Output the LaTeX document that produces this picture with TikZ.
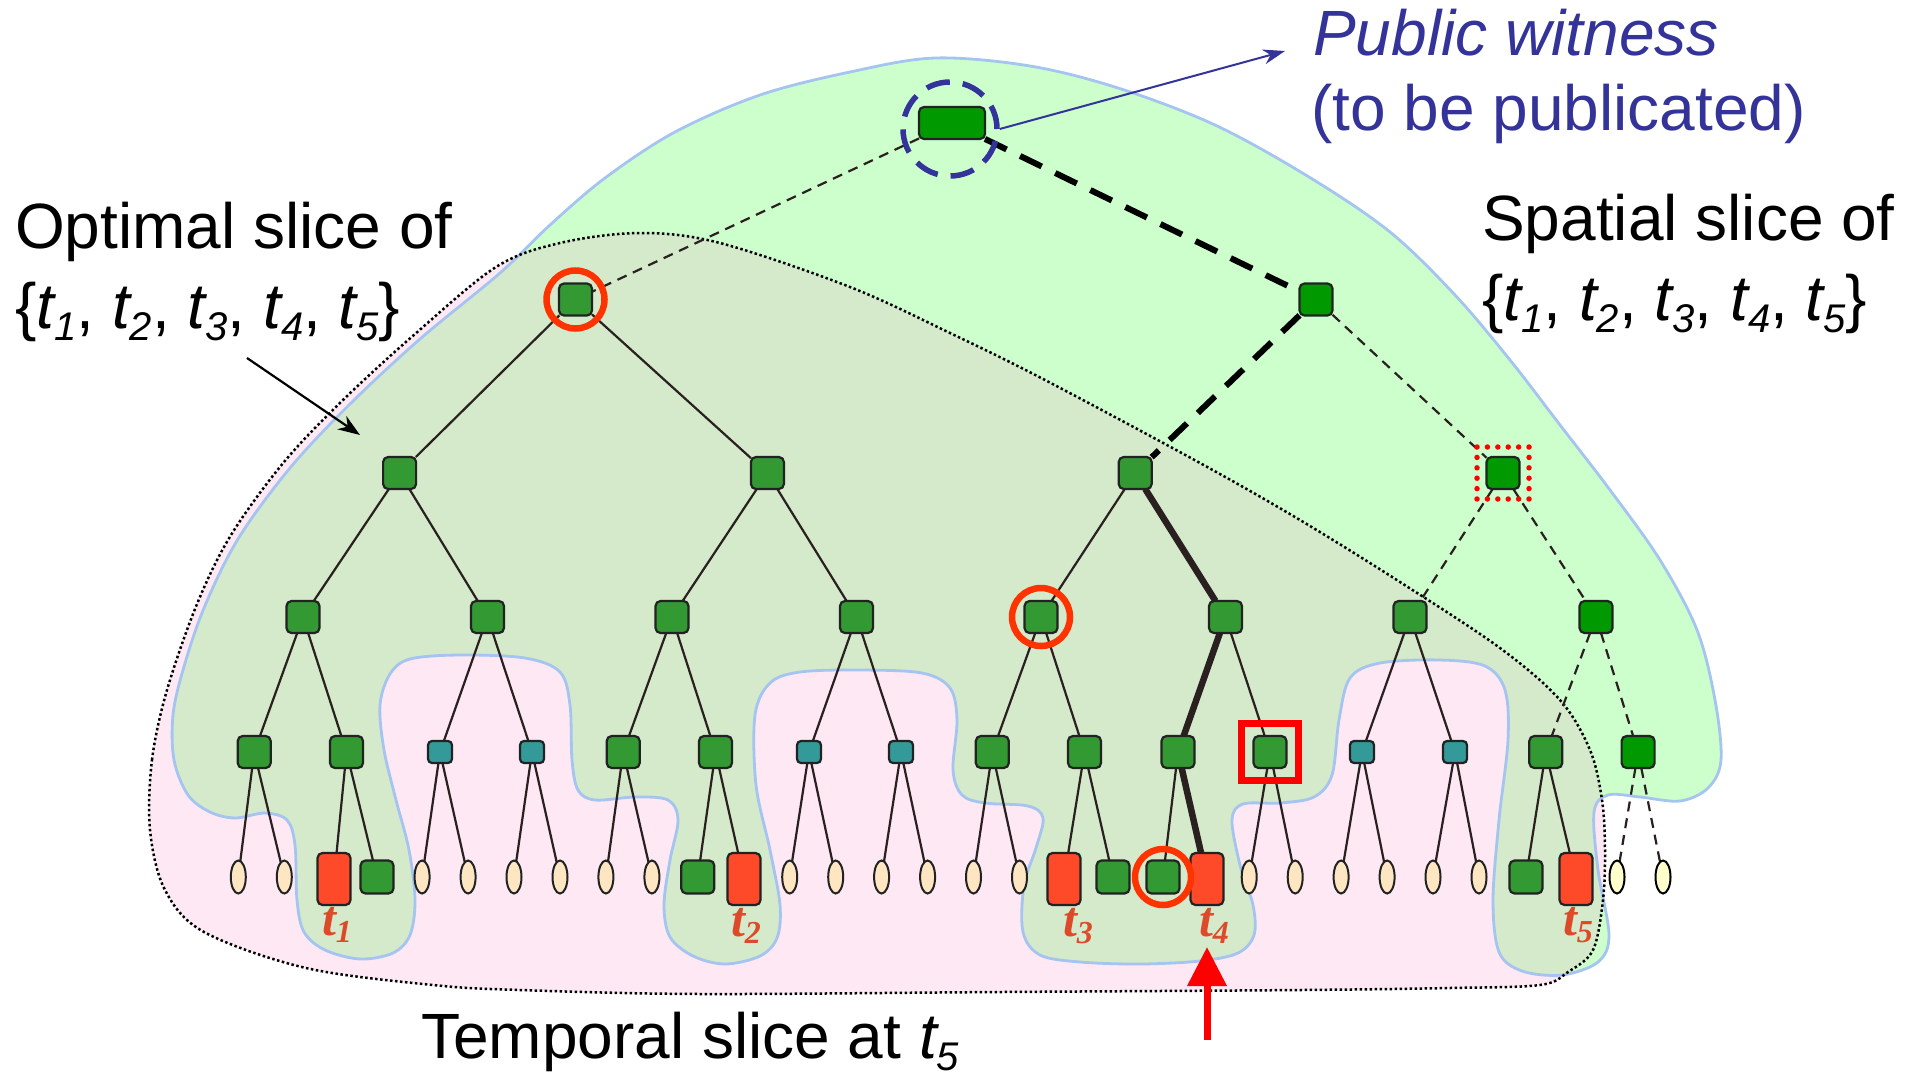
\documentclass[tikz,border=0pt]{standalone}
\usepackage{fontspec}
\setmainfont{Liberation Sans}
\newfontfamily\labelserif{Liberation Serif}
\usetikzlibrary{arrows.meta,calc,shapes.geometric}

\definecolor{regpink}{HTML}{FDE8F4}
\definecolor{reggreen}{HTML}{CCFFCC}
\definecolor{regboth}{HTML}{D4EACB}
\definecolor{regline}{HTML}{A5C4F0}
\definecolor{nodemid}{HTML}{339933}
\definecolor{nodebright}{HTML}{009900}
\definecolor{nodeteal}{HTML}{339999}
\definecolor{nodeline}{HTML}{222222}
\definecolor{leafcream}{HTML}{FFE6C3}
\definecolor{leafpale}{HTML}{FFFFCC}
\definecolor{leafred}{HTML}{FF4A2A}
\definecolor{edgedark}{HTML}{2A2020}
\definecolor{markred}{HTML}{FF3300}
\definecolor{purered}{HTML}{FF0000}
\definecolor{labred}{HTML}{DD4A2A}
\definecolor{witness}{HTML}{333399}

\pgfdeclarelayer{regions}
\pgfdeclarelayer{links}
\pgfsetlayers{regions,links,main}

% subscript used in the set labels
\newcommand\subs[1]{\raisebox{-12pt}{\fontsize{40}{40}\selectfont\itshape #1}}
\newcommand\tset{\{{\itshape t}\subs{1}, {\itshape t}\subs{2}, {\itshape t}\subs{3}, {\itshape t}\subs{4}, {\itshape t}\subs{5}\}}
% red leaf labels
\newcommand\tlab[1]{{\labelserif\fontsize{50}{50}\selectfont\bfseries\itshape t\raisebox{-7pt}{\fontsize{32}{32}\selectfont #1}}}

\begin{document}
\begin{tikzpicture}[x=1pt,y=-1pt,
  bigtext/.style={font=\fontsize{64}{76}\selectfont, inner sep=0pt, anchor=base west},
  gnode/.style={rectangle, rounded corners=5pt, draw=nodeline, line width=2.2pt, fill=nodemid,
    minimum width=33pt, minimum height=32pt, inner sep=0pt, outer sep=0pt},
  gbright/.style={gnode, fill=nodebright},
  tnode/.style={gnode, fill=nodeteal, minimum width=24pt, minimum height=22pt, rounded corners=4pt},
  leafe/.style={ellipse, draw=nodeline, line width=2pt, fill=leafcream, minimum width=15pt,
    minimum height=33pt, inner sep=0pt, outer sep=0pt},
  leafp/.style={leafe, fill=leafpale, draw=black},
  leafg/.style={gnode, minimum height=33pt},
  leafr/.style={gnode, fill=leafred, minimum height=52pt},
  tedge/.style={draw=edgedark, line width=2.2pt},
  tdash/.style={tedge, dash pattern=on 10pt off 7pt},
  tthick/.style={draw=edgedark, line width=6.5pt},
  tthickdash/.style={draw=black, line width=6pt, dash pattern=on 24pt off 15pt},
  ringmark/.style={circle, draw=markred, line width=6.5pt, minimum size=58pt, inner sep=0pt},
  boxmark/.style={rectangle, draw=purered, line width=7pt, minimum size=57pt, inner sep=0pt},
  dotmark/.style={rectangle, draw=purered, line width=5.5pt, minimum size=52pt, inner sep=0pt,
    dash pattern=on 0pt off 10.4pt, line cap=round},
  tl/.style={inner sep=0pt, text=labred}
]
\useasboundingbox (0,0) rectangle (1916,1076);

% ---------- slice regions ----------
\path[save path=\pinkpath] plot[smooth cycle, tension=0.55] coordinates {
  (150,830) (152,760) (167,690) (197,604) (231,535) (284,462) (344,399) (415,334)
  (496,267) (560,243) (640,233) (720,243) (850,287) (950,333) (1045,380) (1200,463)
  (1300,520) (1400,582) (1500,648) (1560,700) (1590,750) (1602,800) (1605,850)
  (1603,900) (1593,950) (1568,972) (1540,985) (1450,988) (1300,990) (1000,992)
  (700,994) (520,990) (433,985) (306,968) (204,932) (165,890)};
\path[save path=\greenpath] plot[smooth cycle, tension=0.55] coordinates {
  (935,58) (1030,66) (1118,88) (1215,125) (1309,177) (1390,232) (1455,295) (1510,360)
  (1560,425) (1610,490) (1660,560) (1697,630) (1715,700) (1721,760) (1708,788)
  (1680,801) (1640,797) (1608,795) (1594,812) (1598,870) (1609,935) (1598,962)
  (1562,975) (1522,971) (1499,952) (1493,900) (1499,820) (1508,740) (1505,690)
  (1485,666) (1440,660) (1380,663) (1350,678) (1339,720) (1332,775) (1314,797)
  (1280,803) (1243,804) (1232,820) (1240,865) (1253,905) (1254,935) (1238,953)
  (1200,961) (1140,964) (1080,962) (1040,955) (1023,932) (1024,885) (1036,848)
  (1043,818) (1028,806) (985,803) (962,795) (953,770) (957,720) (950,688) (922,673)
  (860,670) (800,672) (770,683) (755,715) (756,785) (770,850) (780,905) (777,938)
  (760,956) (725,964) (693,956) (670,937) (664,905) (670,860) (678,820) (668,800)
  (635,797) (595,800) (578,790) (572,760) (570,705) (560,672) (525,658) (460,655)
  (410,659) (390,674) (380,705) (384,750) (396,800) (409,850) (415,900) (410,935)
  (393,953) (360,959) (325,950) (304,932) (297,900) (295,845) (287,820) (265,813)
  (235,818) (210,812) (188,795) (174,760) (173,715) (183,670) (204,608) (238,539)
  (290,468) (350,404) (420,339) (500,273) (550,225) (605,178) (675,132) (760,95)
  (850,72)};
\begin{pgfonlayer}{regions}
  \fill[regpink, use path=\pinkpath];
  \fill[reggreen, use path=\greenpath];
  \begin{scope}
    \clip[use path=\pinkpath];
    \fill[regboth, use path=\greenpath];
  \end{scope}
  \draw[regline, line width=2.8pt, use path=\greenpath];
  \draw[black, line width=2.5pt, dash pattern=on 2.5pt off 2.5pt, use path=\pinkpath];
\end{pgfonlayer}

% ---------- tree nodes ----------
\node[gbright, minimum width=66pt] (root) at (952,123) {};
\node[gnode] (L) at (575.5,299.5) {};
\node[gbright] (R) at (1316,299.5) {};

\node[gnode] (A0) at (399.6,473) {};
\node[gnode] (A1) at (767.4,473) {};
\node[gnode] (A2) at (1135.2,473) {};
\node[gbright] (A3) at (1503,473) {};

\node[gnode] (B0) at (303,617) {};
\node[gnode] (B1) at (487.5,617) {};
\node[gnode] (B2) at (672,617) {};
\node[gnode] (B3) at (856.5,617) {};
\node[gnode] (B4) at (1041,617) {};
\node[gnode] (B5) at (1225.5,617) {};
\node[gnode] (B6) at (1410,617) {};
\node[gbright] (B7) at (1596,617) {};

\node[gnode] (C0) at (254.2,752) {};
\node[gnode] (C1) at (346.5,752) {};
\node[tnode] (C2) at (440,752) {};
\node[tnode] (C3) at (532,752) {};
\node[gnode] (C4) at (623.2,752) {};
\node[gnode] (C5) at (715.5,752) {};
\node[tnode] (C6) at (809,752) {};
\node[tnode] (C7) at (901,752) {};
\node[gnode] (C8) at (992.3,752) {};
\node[gnode] (C9) at (1084.5,752) {};
\node[gnode] (C10) at (1178,752) {};
\node[gnode] (C11) at (1270,752) {};
\node[tnode] (C12) at (1362,752) {};
\node[tnode] (C13) at (1455,752) {};
\node[gnode] (C14) at (1545.8,752) {};
\node[gbright] (C15) at (1638.1,752) {};

% leaves
\node[leafe] (v0) at (238.3,877) {};
\node[leafe] (v1) at (284.3,877) {};
\node[leafr] (v2) at (334,879) {};
\node[leafg] (v3) at (377,877) {};
\node[leafe] (v4) at (422.1,877) {};
\node[leafe] (v5) at (468.1,877) {};
\node[leafe] (v6) at (514,877) {};
\node[leafe] (v7) at (560,877) {};
\node[leafe] (v8) at (605.9,877) {};
\node[leafe] (v9) at (651.9,877) {};
\node[leafg] (v10) at (697.8,877) {};
\node[leafr] (v11) at (744,879) {};
\node[leafe] (v12) at (789.7,877) {};
\node[leafe] (v13) at (835.7,877) {};
\node[leafe] (v14) at (881.6,877) {};
\node[leafe] (v15) at (927.6,877) {};
\node[leafe] (v16) at (973.5,877) {};
\node[leafe] (v17) at (1019.5,877) {};
\node[leafr] (v18) at (1064,879) {};
\node[leafg] (v19) at (1113,877) {};
\node[leafg] (v20) at (1163,877) {};
\node[leafr] (v21) at (1207,879) {};
\node[leafe] (v22) at (1249.2,877) {};
\node[leafe] (v23) at (1295.2,877) {};
\node[leafe] (v24) at (1341.1,877) {};
\node[leafe] (v25) at (1387.1,877) {};
\node[leafe] (v26) at (1433,877) {};
\node[leafe] (v27) at (1479,877) {};
\node[leafg] (v28) at (1526,877) {};
\node[leafr] (v29) at (1576,879) {};
\node[leafp] (v30) at (1617,877) {};
\node[leafp] (v31) at (1663,877) {};

% ---------- tree links ----------
\begin{pgfonlayer}{links}
  \draw[tdash] (root) -- (L);
  \draw[tthickdash] (root) -- (R);
  \draw[tedge] (L) -- (A0);
  \draw[tedge] (L) -- (A1);
  \draw[tthickdash] (R) -- (A2);
  \draw[tdash] (R) -- (A3);
  \draw[tedge] (A0) -- (B0);
  \draw[tedge] (A0) -- (B1);
  \draw[tedge] (A1) -- (B2);
  \draw[tedge] (A1) -- (B3);
  \draw[tedge] (A2) -- (B4);
  \draw[tthick] (A2) -- (B5);
  \draw[tdash] (A3) -- (B6);
  \draw[tdash] (A3) -- (B7);
  \foreach \k in {0,1,2,3,4,6} {
    \pgfmathtruncatemacro\ca{2*\k}
    \pgfmathtruncatemacro\cb{2*\k+1}
    \draw[tedge] (B\k) -- (C\ca);
    \draw[tedge] (B\k) -- (C\cb);
  }
  \draw[tthick] (B5) -- (C10);
  \draw[tedge] (B5) -- (C11);
  \draw[tdash] (B7) -- (C14);
  \draw[tdash] (B7) -- (C15);
  \foreach \j in {0,...,9,11,12,13,14} {
    \pgfmathtruncatemacro\la{2*\j}
    \pgfmathtruncatemacro\lb{2*\j+1}
    \draw[tedge] (C\j) -- (v\la);
    \draw[tedge] (C\j) -- (v\lb);
  }
  \draw[tedge] (C10) -- (v20);
  \draw[tthick] (C10) -- (v21);
  \draw[tdash] (C15) -- (v30);
  \draw[tdash] (C15) -- (v31);
\end{pgfonlayer}

% ---------- marks ----------
\node[circle, draw=witness, line width=5.5pt, minimum size=94pt, inner sep=0pt,
  dash pattern=on 24pt off 13pt] (rootring) at (950,129) {};
\node[ringmark] (markL) at (L) {};
\node[ringmark] (markB4) at (B4) {};
\node[ringmark, minimum size=56pt] (markv20) at (v20) {};
\node[boxmark] (markC11) at (C11) {};
\node[dotmark] (markA3) at (A3) {};

% leaf labels
\node[tl] (lt1) at (337,925) {\tlab{1}};
\node[tl] (lt2) at (746,926) {\tlab{2}};
\node[tl] (lt3) at (1078,926) {\tlab{3}};
\node[tl] (lt4) at (1214,926) {\tlab{4}};
\node[tl] (lt5) at (1578,925) {\tlab{5}};

% ---------- texts and pointers ----------
\node[bigtext] (optA) at (15,248) {Optimal slice of};
\node[bigtext] (optB) at (15,328) {\tset};
\node[bigtext] (spA) at (1482,240) {Spatial slice of};
\node[bigtext] (spB) at (1482,320) {\tset};
\node[bigtext, text=witness] (pwA) at (1313,55) {\itshape Public witness};
\node[bigtext, text=witness] (pwB) at (1311,130) {(to be publicated)};
\node[bigtext] (tempo) at (421,1058) {Temporal slice at {\itshape t}\subs{5}};

\coordinate (pwTip) at (1285,51);
\draw[witness, line width=2pt, -{Stealth[length=22pt,width=15pt]}] (rootring.east) -- (pwTip);

\coordinate (optTail) at (247,358);
\coordinate (optTip) at (360,435);
\draw[black, line width=2.2pt, -{Stealth[length=22pt,width=16pt]}] (optTail) -- (optTip);

\coordinate (arrTail) at (1207,1040);
\coordinate (arrTip) at (1207,947);
\draw[purered, line width=7pt, -{Triangle[length=39pt,width=38pt]}] (arrTail) -- (arrTip);
\end{tikzpicture}
\end{document}
